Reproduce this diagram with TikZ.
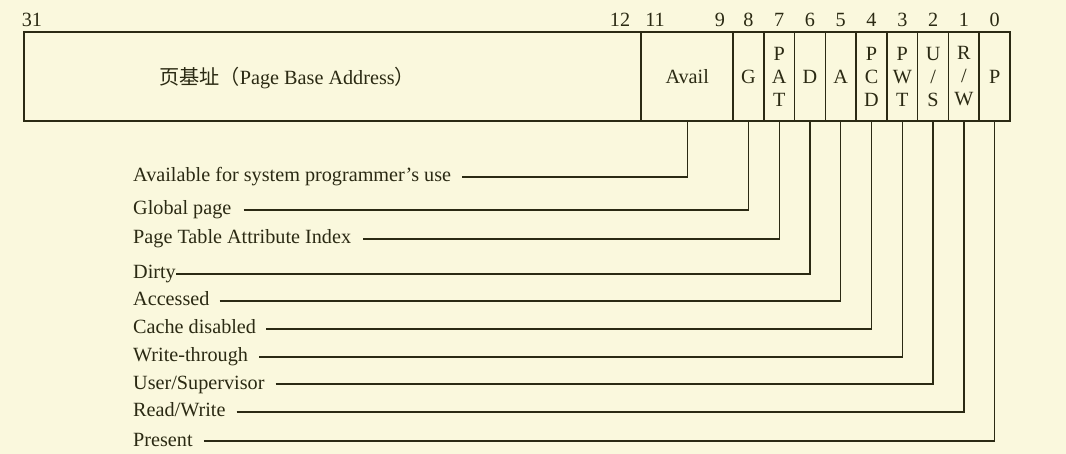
\documentclass[tikz,border=0pt]{standalone}
\usepackage{fontspec}
\setmainfont{Liberation Serif}
\newfontfamily\cjk{Noto Sans CJK SC}
\definecolor{papel}{HTML}{FAF8DD}
\definecolor{tinta}{HTML}{2B2A13}
\tikzset{
    letra/.style={font=\fontsize{20.2}{23}\selectfont, text=tinta},
    campo/.style={letra, draw=tinta, line width=1.6pt, minimum height=89pt,
        inner sep=0pt, outer sep=0pt, align=center},
    rotulo/.style={letra, anchor=west, inner xsep=0pt,
        text height=14pt, text depth=4pt},
    guia/.style={draw=tinta, line width=1.3pt},
}
\begin{document}
\begin{tikzpicture}[x=1pt, y=-1pt]
    % Fondo
    \fill[papel] (0,0) rectangle (1066,454);

    % Campos de la entrada
    \node[campo, minimum width=617pt] (base) at (332.5,76.5) {};
    \node[letra] (tbase) at (287,78)
        {{\cjk 页基址（}Page Base Address{\cjk ）}};
    \node[campo, minimum width=92.3pt] (avail) at (687.2,76.5) {Avail};
    \foreach \nombre/\texto [count=\i from 0] in
        {g/G, pat/{P\\A\\T}, d/D, a/A, pcd/{P\\C\\D},
         pwt/{P\\W\\T}, us/{U\\/\\S}, rw/{R\\/\\W}, p/P}
        \node[campo, minimum width=30.78pt] (\nombre)
            at ({748.4+30.78*\i},76.5) {\texto};

    % Numeros de bit
    \node[letra] (n31) at (32,20) {31};
    \node[letra] (n12) at (620,20) {12};
    \node[letra] (n11) at (655,20) {11};
    \node[letra] (n9) at (720,20) {9};
    \foreach \b [count=\i from 0] in {8,7,6,5,4,3,2,1,0}
        \node[letra] (n\b) at ({748.4+30.78*\i},20) {\b};

    % Rotulos y lineas guia
    \foreach \campo/\y/\hueco/\texto in
        {avail/177/11/{Available for system programmer's use},
         g/210/12/{Global page},
         pat/239/12/{Page Table Attribute Index},
         d/274/0/{Dirty},
         a/301/10/{Accessed},
         pcd/329/10/{Cache disabled},
         pwt/357/11/{Write-through},
         us/384/11/{User/Supervisor},
         rw/412/11/{Read/Write},
         p/441/11/{Present}}
    {
        \node[rotulo] (r\campo) at (133,\y) {\texto};
        \draw[guia, shorten <=\hueco pt] (r\campo.east) -| (\campo.south);
    }
\end{tikzpicture}
\end{document}
